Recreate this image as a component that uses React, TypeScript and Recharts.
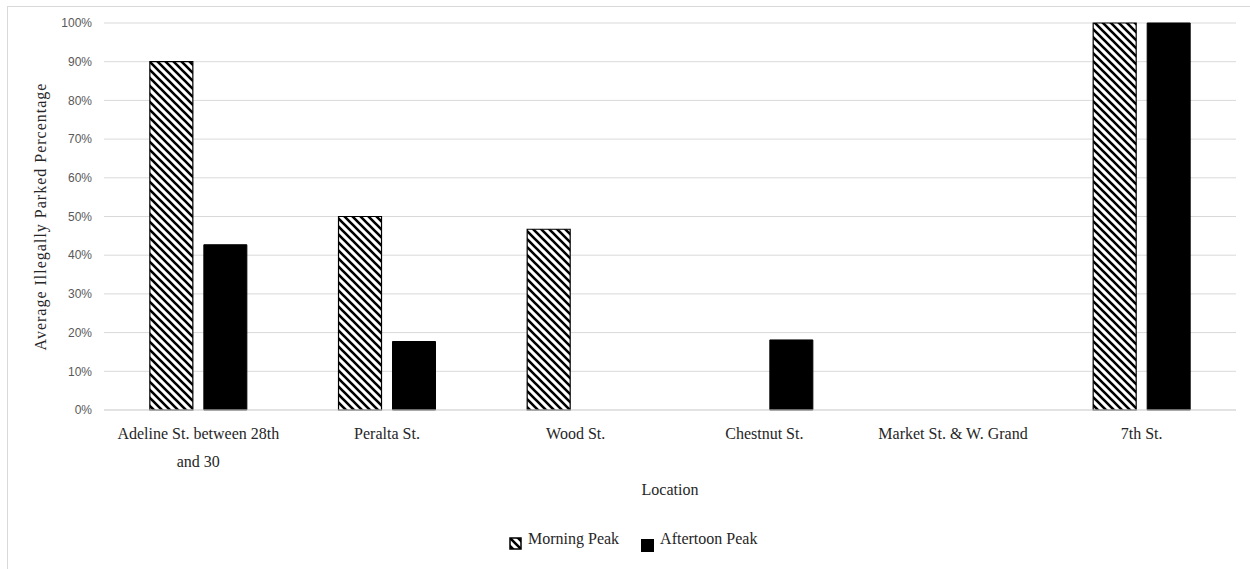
import React from 'react';
import { BarChart, Bar, XAxis, YAxis, CartesianGrid, Label, Text } from 'recharts';

const categories = ['Adeline St. between 28th and 30', 'Peralta St.', 'Wood St.', 'Chestnut St.', 'Market St. & W. Grand', '7th St.'];
const morningPeak: (number | null)[] = [90, 50, 46.7, null, null, 100];
const afternoonPeak: (number | null)[] = [42.7, 17.7, null, 18.1, null, 100];
const yTicks = [0, 10, 20, 30, 40, 50, 60, 70, 80, 90, 100];

const data = categories.map((c, i) => ({ name: c, morning: morningPeak[i], afternoon: afternoonPeak[i] }));

const SERIF = '"Liberation Serif", "DejaVu Serif", serif';
const SANS = '"Liberation Sans", Arial, sans-serif';

const CategoryTick = (props: any) => {
  const { x, y, payload } = props;
  return (
    <Text
      x={x}
      y={y + 10}
      width={180}
      lineHeight={28}
      textAnchor="middle"
      verticalAnchor="start"
      style={{ fontFamily: SERIF, fontSize: 16, fill: '#262626' }}
    >
      {payload.value}
    </Text>
  );
};

export default function App() {
  return (
    <div style={{ position: 'absolute', left: 0, top: 0, width: 1250, height: 569, overflow: 'hidden', background: '#fff' }}>
      <div style={{ position: 'absolute', left: 7, top: 6, width: 1260, height: 600, border: '1px solid #d9d9d9' }} />
      <div style={{ position: 'absolute', left: 0, top: 0 }}>
        <BarChart
          width={1250}
          height={569}
          data={data}
          margin={{ top: 23, right: 14, bottom: 59, left: 0 }}
          barCategoryGap="24.3%"
          barGap={11}
        >
          <defs>
            <pattern id="hatch" patternUnits="userSpaceOnUse" width="8" height="8">
              <rect width="8" height="8" fill="#fff" />
              <path d="M-2,-2 L10,10 M-2,6 L2,10 M6,-2 L10,2" stroke="#000" strokeWidth={2.6} />
            </pattern>
          </defs>
          <CartesianGrid vertical={false} stroke="#d9d9d9" />
          <XAxis
            dataKey="name"
            height={100}
            interval={0}
            tickLine={false}
            axisLine={{ stroke: '#d9d9d9' }}
            tick={<CategoryTick />}
          >
            <Label value="Location" position="insideBottom" offset={15} style={{ fontFamily: SERIF, fontSize: 16, fill: '#262626' }} />
          </XAxis>
          <YAxis
            width={104}
            domain={[0, 100]}
            ticks={yTicks}
            interval={0}
            tickLine={false}
            axisLine={false}
            tickMargin={6}
            tickFormatter={(v: number) => `${v}%`}
            tick={{ fontFamily: SANS, fontSize: 12, fill: '#595959' }}
          >
            <Label
              value="Average Illegally Parked Percentage"
              angle={-90}
              position="insideLeft"
              offset={40}
              style={{ textAnchor: 'middle', fontFamily: SERIF, fontSize: 16, letterSpacing: 1, fill: '#262626' }}
            />
          </YAxis>
          <Bar dataKey="morning" fill="url(#hatch)" stroke="#000" strokeWidth={1.2} isAnimationActive={false} />
          <Bar dataKey="afternoon" fill="#000" stroke="#000" strokeWidth={1} isAnimationActive={false} />
        </BarChart>
      </div>
      <div style={{ position: 'absolute', left: 509, top: 529, display: 'flex', alignItems: 'flex-start', fontFamily: SERIF, fontSize: 16, color: '#262626' }}>
        <svg width="13" height="13" style={{ marginTop: 8 }}>
          <rect x="1" y="1" width="11" height="11" fill="url(#hatch)" stroke="#000" strokeWidth={1.5} />
        </svg>
        <span style={{ marginLeft: 6, lineHeight: '20px' }}>Morning Peak</span>
        <svg width="13" height="13" style={{ marginLeft: 22, marginTop: 10 }}>
          <rect x="0" y="0" width="13" height="13" fill="#000" />
        </svg>
        <span style={{ marginLeft: 6, lineHeight: '20px' }}>Aftertoon Peak</span>
      </div>
    </div>
  );
}
